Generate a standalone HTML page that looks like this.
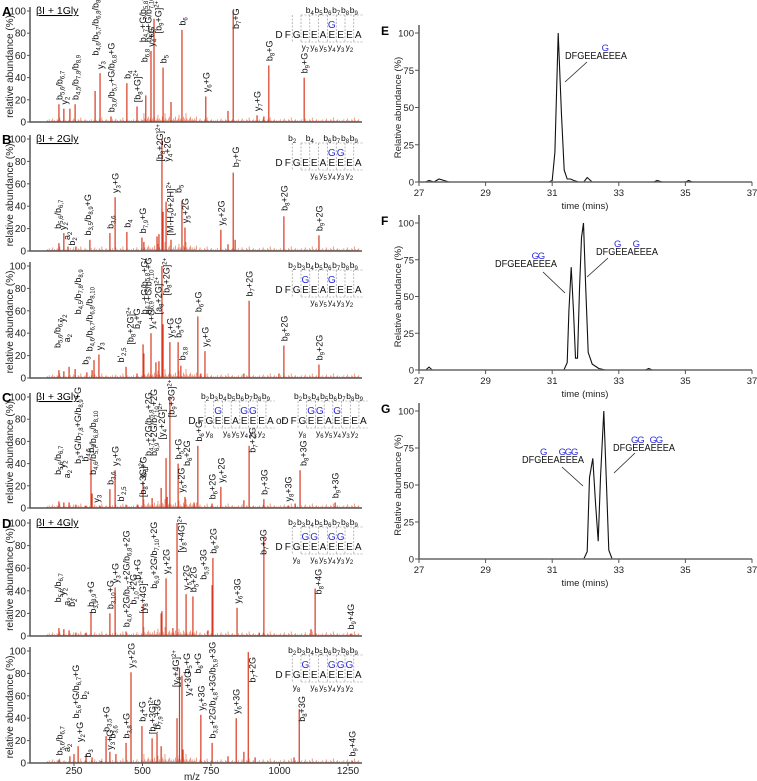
<!DOCTYPE html>
<html><head><meta charset="utf-8">
<style>
html,body{margin:0;padding:0;background:#fff;}
svg{display:block;font-family:"Liberation Sans",Arial,sans-serif;}
</style></head>
<body>
<svg id="fig" width="757" height="781" viewBox="0 0 757 781" xmlns="http://www.w3.org/2000/svg"></svg>
<script>
// ---------- DATA: MS/MS spectra (m/z, relative abundance %) ----------
const mzTicks = [250, 500, 750, 1000, 1250];
const yTicksSpec = [0, 20, 40, 60, 80, 100];
const noisePattern = [1,2,1,3,1,1,2,4,1,2,1,1,3,2,1,5,2,1,1,2,3,1,2,1];

const peaksA_mz  = [195,213,235,254,327,345,385,443,480,512,531,542,575,604,644,731,812,831,918,943,961,1090];
const peaksA_int = [16,12,12,16,28,44,5,35,14,24,64,93,49,18,83,23,10,100,6,5,51,40];
const labelsA = [[195,18,"b_5,6_/b_6,7_"],[213,14,"y_2_"],[254,18,"b_4,5_/b_7,8_/b_8,9_"],[327,58,"b_4,6_/b_5,7_/b_6,8_/b_8,10_"],[345,46,"y_3_"],[385,7,"b_3,6_/b_5,7_+G/b_6,8_+G"],[443,37,"b_4_"],[480,16,"[b_8_+G]^2+^"],[500,70,"b_4,7_+G/b_5,8_+G/"],[520,70,"b_6,9_+G/b_7,10_+G"],[505,52,"b_6,8_"],[531,66,"y_4_+G"],[556,78,"[b_9_+G]^2+^"],[575,51,"b_5_"],[644,85,"b_6_"],[731,25,"y_6_+G"],[840,82,"b_7_+G"],[918,8,"y_7_+G"],[961,53,"b_8_+G"],[1090,42,"b_9_+G"]];

const peaksB1_mz  = [195,213,228,257,308,381,400,443,498,505,553,560,571,575,586,604,644,655,786,812,831,838,1016,1144];
const peaksB1_int = [7,16,4,4,10,16,48,17,12,8,13,15,100,35,44,10,45,21,19,6,70,10,31,14];
const labelsB1 = [[190,18,"b_5,6_/b_6,7_"],[208,17,"y_2_"],[222,8,"a_2_"],[240,3,"b_2_"],[300,12,"b_3,5_/b_8,9_+G"],[381,18,"b_3,6_"],[400,50,"y_3_+G"],[443,19,"b_4_"],[500,14,"b_7,9_+G"],[562,78,"[b_8_+2G]^2+^"],[590,78,"y_4_+2G"],[600,12,"[M-H_2_0+2H]^2+^"],[630,50,"b_5_"],[655,23,"y_5_+2G"],[786,21,"y_6_+2G"],[840,73,"b_7_+G"],[1016,34,"b_8_+2G"],[1144,16,"b_9_+2G"]];

const peaksB2_mz  = [195,213,232,254,297,316,323,341,440,480,502,505,531,549,560,571,575,600,630,640,702,713,728,870,889,998,1016,1144];
const peaksB2_int = [7,6,10,8,5,7,16,21,10,4,30,22,40,14,15,100,48,32,32,11,55,4,24,4,69,4,29,12];
const labelsB2 = [[188,25,"b_5,6_/b_6,7_"],[205,48,"y_2_"],[222,30,"a_2_"],[262,55,"b_4,5_/b_7,8_/b_8,9_"],[290,10,"b_3_"],[305,22,"b_4,6_/b_6,7_/b_6,8_/b_8,10_"],[341,23,"y_3_"],[420,12,"b'_2,5_"],[455,28,"[b_8_+2G]^2+^"],[478,42,"b_4_+G"],[505,55,"b_4,7_+G/b_5,8_+G/"],[520,55,"b_6,9_+G/b_7,10_+G"],[531,42,"y_4_+G"],[556,55,"[a_8_+2G]^2+^"],[585,72,"[b_8_+2G]^2+^"],[600,34,"y_5_+G"],[630,34,"b_5_+G"],[645,14,"b_3,8_"],[702,57,"b_6_+G"],[728,26,"y_6_+G"],[889,71,"b_7_+2G"],[1016,31,"b_8_+2G"],[1144,14,"b_9_+2G"]];

const peaksC_mz  = [195,213,232,257,294,312,316,345,381,400,440,483,502,535,568,586,590,600,630,655,688,702,754,786,870,889,943,1031,1057,1075,1203];
const peaksC_int = [6,5,5,3,2,43,13,2,17,34,3,3,24,9,18,45,10,100,40,10,5,56,4,19,7,56,8,2,4,34,5];
const labelsC = [[190,28,"b_5,6_/b_6,7_"],[207,34,"y_2_"],[222,25,"a_2_"],[262,38,"b_3_+G/b_7,8_+G/b_8,9_+G"],[290,40,"b_4,5_"],[310,48,"b_3_"],[318,28,"b_4,6_/b_5,7_/b_6,8_/b_8,10_"],[330,3,"y_3_"],[381,19,"b_3,6_"],[400,36,"y_3_+G"],[420,4,"b'_2,5_"],[502,26,"b_4_+G"],[520,45,"b_4,7_+2G/b_5,8_+2G"],[540,45,"b_6,9_+2G/b_7,10_+2G"],[500,8,"[b_8_+3G]^2+^"],[570,60,"[y_4_+2G]^2+^"],[604,80,"[b_9_+3G]^2+^"],[630,42,"b_5_+G"],[640,12,"y_5_+2G"],[660,36,"b_6_+2G"],[705,58,"b_6_+G"],[754,6,"b_6_+2G"],[786,21,"y_6_+2G"],[900,48,"b_7_+2G"],[943,10,"b_7_+3G"],[1031,4,"y_8_+3G"],[1085,36,"b_8_+3G"],[1203,7,"b_9_+3G"]];

const peaksD1_mz  = [195,213,232,257,294,312,381,400,440,502,568,571,586,611,626,659,684,739,754,757,845,926,943,1115,1130,1260];
const peaksD1_int = [7,6,5,3,3,21,20,43,4,28,20,22,51,7,100,37,35,5,45,69,25,3,88,6,42,2];
const labelsD1 = [[190,28,"b_5,6_/b_6,7_"],[207,34,"y_2_"],[222,25,"a_2_"],[240,24,"b_2_"],[310,24,"b_3,9_+G"],[318,18,"b_3,9_"],[381,22,"b_3,10_+G"],[400,45,"y_3_+G"],[440,6,"b_4,6_+2G/b_5,7_+2G/b_6,8_+2G"],[465,26,"b_1,0_+2G"],[480,48,"b_4_+G"],[500,18,"[y_8_+4G]^2+^"],[540,40,"b_6,9_+2G/b_7,10_+2G"],[586,53,"y_4_+2G"],[640,72,"[y_8_+4G]^2+^"],[659,39,"y_5_+2G"],[684,37,"b_5_+2G"],[720,48,"b_5,9_+3G"],[757,71,"b_6_+2G"],[845,27,"y_6_+3G"],[940,70,"b_7_+3G"],[1140,35,"b_8_+4G"],[1260,4,"b_9_+4G"]];

const peaksD2_mz  = [195,235,250,265,294,316,349,367,381,403,440,458,498,535,553,568,626,635,644,648,713,754,812,842,870,886,911,1053,1072,1265];
const peaksD2_int = [3,6,8,15,8,5,2,24,10,8,18,81,33,22,26,15,40,85,78,12,43,18,6,40,10,99,5,5,48,2];
const labelsD2 = [[195,5,"b_5,6_/b_6,7_"],[222,8,"a_2_"],[255,38,"b_5,6_+G/b_6,7_+G"],[270,17,"y_2_+G"],[285,55,"b_2_"],[300,3,"b_3_"],[367,26,"b_3,5_+G"],[380,10,"y_3_+G"],[388,20,"b_3,6_"],[440,20,"b_3,8_+G"],[458,83,"y_3_+2G"],[498,35,"b_4_+G"],[535,24,"[b_8_+3G]^2+^"],[553,28,"b_7,9_+3G"],[620,66,"[y_8_+4G]^2+^"],[660,78,"b_5_+G"],[665,58,"y_4_+3G"],[700,78,"b_6_+G"],[713,45,"y_5_+3G"],[754,20,"b_3,8_+2G/b_4,8_+3G/b_5,9_+3G"],[842,42,"y_6_+3G"],[900,70,"b_7_+2G"],[1080,35,"b_8_+3G"],[1265,4,"b_9_+4G"]];

// ---------- DATA: extracted ion chromatograms ----------
const timeTicks = [27, 29, 31, 33, 35, 37];
const yTicksChrom = [0, 25, 50, 75, 100];
const traceE_t = [27,27.2,27.3,27.45,27.6,27.75,27.9,30.9,31.0,31.08,31.18,31.28,31.36,31.45,31.55,31.65,31.8,31.95,32.05,32.2,34.05,34.15,34.3,35.0,35.1,35.2,37];
const traceE_v = [0,0,1,0,2,1,0,0,1,20,100,45,8,2,2,1,0,0,3,0,0,1,0,0,1,0,0];
const traceF_t = [27,27.2,27.3,27.4,27.6,31.35,31.45,31.5,31.57,31.64,31.7,31.76,31.82,31.88,31.94,32.0,32.08,32.2,32.4,32.6,33.8,33.9,34.0,37];
const traceF_v = [0,0,2,0,0,0,5,40,70,40,8,8,55,90,100,60,12,4,1,0,0,1,0,0];
const traceG_t = [27,31.95,32.05,32.12,32.22,32.3,32.38,32.45,32.55,32.63,32.7,32.8,37];
const traceG_v = [0,0,5,55,68,38,12,55,100,50,6,0,0];

// ---------- helpers ----------
const NS = "http://www.w3.org/2000/svg";
const svg = document.getElementById('fig');
function mk(tag, attrs, parent) {
  const e = document.createElementNS(NS, tag);
  for (const k in attrs) e.setAttribute(k, attrs[k]);
  (parent || svg).appendChild(e);
  return e;
}
function richText(el, str) {
  const parts = str.split(/(_[^_]*_|\^[^\^]*\^)/);
  parts.forEach(p => {
    if (!p) return;
    const t = document.createElementNS(NS, 'tspan');
    if (p[0] === '_' && p.length > 1) { t.textContent = p.slice(1, -1); t.setAttribute('font-size', '6'); t.setAttribute('dy', '2'); el.appendChild(t);
      const r = document.createElementNS(NS, 'tspan'); r.setAttribute('dy', '-2'); r.textContent = '\u200b'; el.appendChild(r); }
    else if (p[0] === '^' && p.length > 1) { t.textContent = p.slice(1, -1); t.setAttribute('font-size', '6'); t.setAttribute('dy', '-3'); el.appendChild(t);
      const r = document.createElementNS(NS, 'tspan'); r.setAttribute('dy', '3'); r.textContent = '\u200b'; el.appendChild(r); }
    else { t.textContent = p; el.appendChild(t); }
  });
}
const X0 = 30, X1 = 362;
function xMz(mz) { return 74 + (mz - 250) * 0.274; }

function spectrum(name, y100, y0, pmz, pint, labels, opts) {
  const g = mk('g', {});
  
  
  const yv = v => y0 - v / 100 * (y0 - y100);
  let k = 0;
  for (let mz = 150; mz < 1290; mz += 3.2) {
    const v = noisePattern[k % noisePattern.length] * (mz > 500 && mz < 700 ? 1.6 : 0.8);
    k++;
    const ln = mk('line', {x1: xMz(mz), x2: xMz(mz), y1: y0, y2: yv(v), stroke: '#e8836b', 'stroke-width': 0.8}, g);
    
    
  }
  pmz.forEach((mz, i) => {
    const ln = mk('line', {x1: xMz(mz), x2: xMz(mz), y1: y0, y2: yv(pint[i]), stroke: '#d9381e', 'stroke-width': 1.2}, g);
    
    
  });
  const ax = mk('path', {d: `M${X0},${y100 - 4} V${y0} H${X1}`, fill: 'none', stroke: '#555', 'stroke-width': 1.5}, g);
  
  
  yTicksSpec.forEach(t => {
    mk('line', {x1: X0 - 3, x2: X0, y1: yv(t), y2: yv(t), stroke: '#555'}, g);
    const tx = mk('text', {x: X0 - 4, y: yv(t) + 3.5, 'font-size': 10, 'text-anchor': 'end', fill: '#222'}, g);
    tx.textContent = t;
    
    
  });
  const yt = mk('text', {transform: `translate(13,${(y0 + y100) / 2}) rotate(-90)`, 'font-size': 10, 'text-anchor': 'middle', fill: '#222'}, g);
  yt.textContent = 'relative abundance (%)';
  
  
  labels.forEach(l => {
    const tx = mk('text', {transform: `translate(${xMz(l[0]) + 3.5},${yv(l[1]) - 2}) rotate(-90)`, 'font-size': 9, fill: '#111'}, g);
    richText(tx, l[2]);
    
    
  });
  if (opts.letter) {
    const L = mk('text', {x: 2, y: y100 + 5, 'font-size': 13, 'font-weight': 'bold', fill: '#000'}, g);
    L.textContent = opts.letter;
    
    
  }
  if (opts.title) {
    const T = mk('text', {x: 36, y: y100 + 3, 'font-size': 10.5, fill: '#000', 'text-decoration': 'underline'}, g);
    T.textContent = opts.title;
    
    
  }
  if (opts.xticks) {
    mzTicks.forEach(t => {
      mk('line', {x1: xMz(t), x2: xMz(t), y1: y0, y2: y0 + 3, stroke: '#555'}, g);
      const tx = mk('text', {x: xMz(t), y: y0 + 11, 'font-size': 10, 'text-anchor': 'middle', fill: '#222'}, g);
      tx.textContent = t;
      
      
    });
    const xt = mk('text', {x: 192, y: 780, 'font-size': 10, 'text-anchor': 'middle', fill: '#222'}, g);
    xt.textContent = 'm/z';
    
    
  }
  return g;
}

function seqInset(name, x0, y100, blue, bLab, yLab, step) {
  const g = mk('g', {});
  
  
  const seq = 'DFGEEAEEEA';
  const yl = y100 + 27;
  for (let i = 0; i < seq.length; i++) {
    const t = mk('text', {x: x0 + i * step, y: yl, 'font-size': 10, 'text-anchor': 'middle', fill: '#111'}, g);
    t.textContent = seq[i];
  }
  blue.forEach(i => {
    const t = mk('text', {x: x0 + i * step, y: yl - 10, 'font-size': 10, 'text-anchor': 'middle', fill: '#2a2ae0'}, g);
    t.textContent = 'G';
    
    
  });
  for (let i = 2; i <= 9; i++) {
    mk('line', {x1: x0 + (i - 0.5) * step, x2: x0 + (i - 0.5) * step, y1: y100 + 4, y2: yl + 4, stroke: '#888', 'stroke-dasharray': '2,1.5', 'stroke-width': 0.6}, g);
  }
  mk('line', {x1: x0 + 2.5 * step, x2: x0 + 9.5 * step, y1: y100 + 4, y2: y100 + 4, stroke: '#888', 'stroke-dasharray': '2,1.5', 'stroke-width': 0.6}, g);
  mk('line', {x1: x0 + 2.5 * step, x2: x0 + 9.5 * step, y1: yl + 4, y2: yl + 4, stroke: '#888', 'stroke-dasharray': '2,1.5', 'stroke-width': 0.6}, g);
  bLab.forEach(i => {
    const t = mk('text', {x: x0 + (i - 0.5) * step, y: y100 + 2, 'font-size': 8.5, 'text-anchor': 'middle', fill: '#111'}, g);
    richText(t, 'b_' + i + '_');
  });
  yLab.forEach(i => {
    const t = mk('text', {x: x0 + (9.5 - i) * step + step * 0.5, y: yl + 12, 'font-size': 8.5, 'text-anchor': 'middle', fill: '#111'}, g);
    richText(t, 'y_' + i + '_');
  });
  return g;
}

spectrum('spectrum-a-1gly', 11, 122, peaksA_mz, peaksA_int, labelsA, {letter: 'A', title: 'βI + 1Gly'});
seqInset('sequence-a', 279, 11, [6], [4,5,6,7,8,9], [7,6,5,4,3,2], 8.8);
spectrum('spectrum-b-2gly-1', 139, 251, peaksB1_mz, peaksB1_int, labelsB1, {letter: 'B', title: 'βI + 2Gly'});
seqInset('sequence-b1', 279, 139, [6,7], [2,4,6,7,8,9], [6,5,4,3,2], 8.8);
spectrum('spectrum-b-2gly-2', 266, 378, peaksB2_mz, peaksB2_int, labelsB2, {});
seqInset('sequence-b2', 279, 266, [3,6], [2,3,4,5,6,7,8,9], [6,5,4,3,2], 8.8);
spectrum('spectrum-c-3gly', 397, 508, peaksC_mz, peaksC_int, labelsC, {letter: 'C', title: 'βI + 3Gly'});
seqInset('sequence-c-left', 192, 397, [3,6,7], [2,3,4,5,6,7,8,9], [8,6,5,4,3,2], 8.7);
const orT = mk('text', {x: 276, y: 424, 'font-size': 10, fill: '#111'});
orT.textContent = 'or';


seqInset('sequence-c-right', 285, 397, [3,4,6], [2,3,4,5,6,7,8,9], [8,6,5,4,3,2], 8.7);
spectrum('spectrum-d-4gly-1', 523, 636, peaksD1_mz, peaksD1_int, labelsD1, {letter: 'D', title: 'βI + 4Gly'});
seqInset('sequence-d1', 279, 523, [3,4,6,7], [2,3,4,5,6,7,8,9], [8,6,5,4,3,2], 8.8);
spectrum('spectrum-d-4gly-2', 651, 763, peaksD2_mz, peaksD2_int, labelsD2, {xticks: true});
seqInset('sequence-d2', 279, 651, [3,6,7,8], [2,3,4,5,6,7,8,9], [8,6,5,4,3,2], 8.8);

const CX0 = 419, CX1 = 752;
function xT(t) { return CX0 + (t - 27) * (CX1 - CX0) / 10; }
function chrom(name, letter, y100, y0, tt, vv, anns) {
  const g = mk('g', {});
  
  
  const yv = v => y0 - v / 100 * (y0 - y100);
  const d = tt.map((t, i) => (i ? 'L' : 'M') + xT(t).toFixed(1) + ',' + yv(vv[i]).toFixed(1)).join(' ');
  const p = mk('path', {d: d, fill: 'none', stroke: '#111', 'stroke-width': 1.1}, g);
  
  
  const ax = mk('path', {d: `M${CX0},${y100 - 8} V${y0} H${CX1}`, fill: 'none', stroke: '#666', 'stroke-width': 1.6}, g);
  
  
  yTicksChrom.forEach(t => {
    mk('line', {x1: CX0 - 4, x2: CX0, y1: yv(t), y2: yv(t), stroke: '#555'}, g);
    const tx = mk('text', {x: CX0 - 5, y: yv(t) + 3.5, 'font-size': 9.5, 'text-anchor': 'end', fill: '#222'}, g);
    tx.textContent = t;
    
    
  });
  timeTicks.forEach(t => {
    mk('line', {x1: xT(t), x2: xT(t), y1: y0, y2: y0 + 4, stroke: '#555'}, g);
    const tx = mk('text', {x: xT(t), y: y0 + 14, 'font-size': 9.5, 'text-anchor': 'middle', fill: '#222'}, g);
    tx.textContent = t;
    
    
  });
  const xt = mk('text', {x: 585, y: y0 + 27, 'font-size': 9.5, 'text-anchor': 'middle', fill: '#222'}, g);
  xt.textContent = 'time (mins)';
  
  
  const yt = mk('text', {transform: `translate(401,${(y0 + y100) / 2}) rotate(-90)`, 'font-size': 9.5, 'text-anchor': 'middle', fill: '#222'}, g);
  yt.textContent = 'Relative abundance (%)';
  
  
  const L = mk('text', {x: 381, y: y100 + 2, 'font-size': 12, 'font-weight': 'bold', fill: '#000'}, g);
  L.textContent = letter;
  
  
  anns.forEach(a => {
    const [x, y, blue, lx1, ly1, lx2, ly2] = a;
    const t = mk('text', {x: x, y: y, 'font-size': 9.8, fill: '#111', textLength: 62, lengthAdjust: 'spacingAndGlyphs'}, g);
    t.textContent = 'DFGEEAEEEA';
    
    
    blue.forEach(i => {
      const b = mk('text', {x: x + 3.1 + i * 6.2, y: y - 8, 'font-size': 9.5, 'text-anchor': 'middle', fill: '#2a2ae0'}, g);
      b.textContent = 'G';
    });
    mk('line', {x1: lx1, y1: ly1, x2: lx2, y2: ly2, stroke: '#222', 'stroke-width': 0.8}, g);
  });
}
chrom('chromatogram-e', 'E', 33, 182, traceE_t, traceE_v, [[565, 59, [6], 587, 62, 565, 82]]);
chrom('chromatogram-f', 'F', 223, 370, traceF_t, traceF_v, [[495, 267, [6,7], 543, 272, 565, 293], [596, 255, [3,6], 608, 258, 587, 277]]);
chrom('chromatogram-g', 'G', 411, 559, traceG_t, traceG_v, [[522, 463, [3,6,7,8], 562, 467, 583, 486], [613, 451, [3,4,6,7], 635, 453, 614, 473]]);
</script>
</body></html>
